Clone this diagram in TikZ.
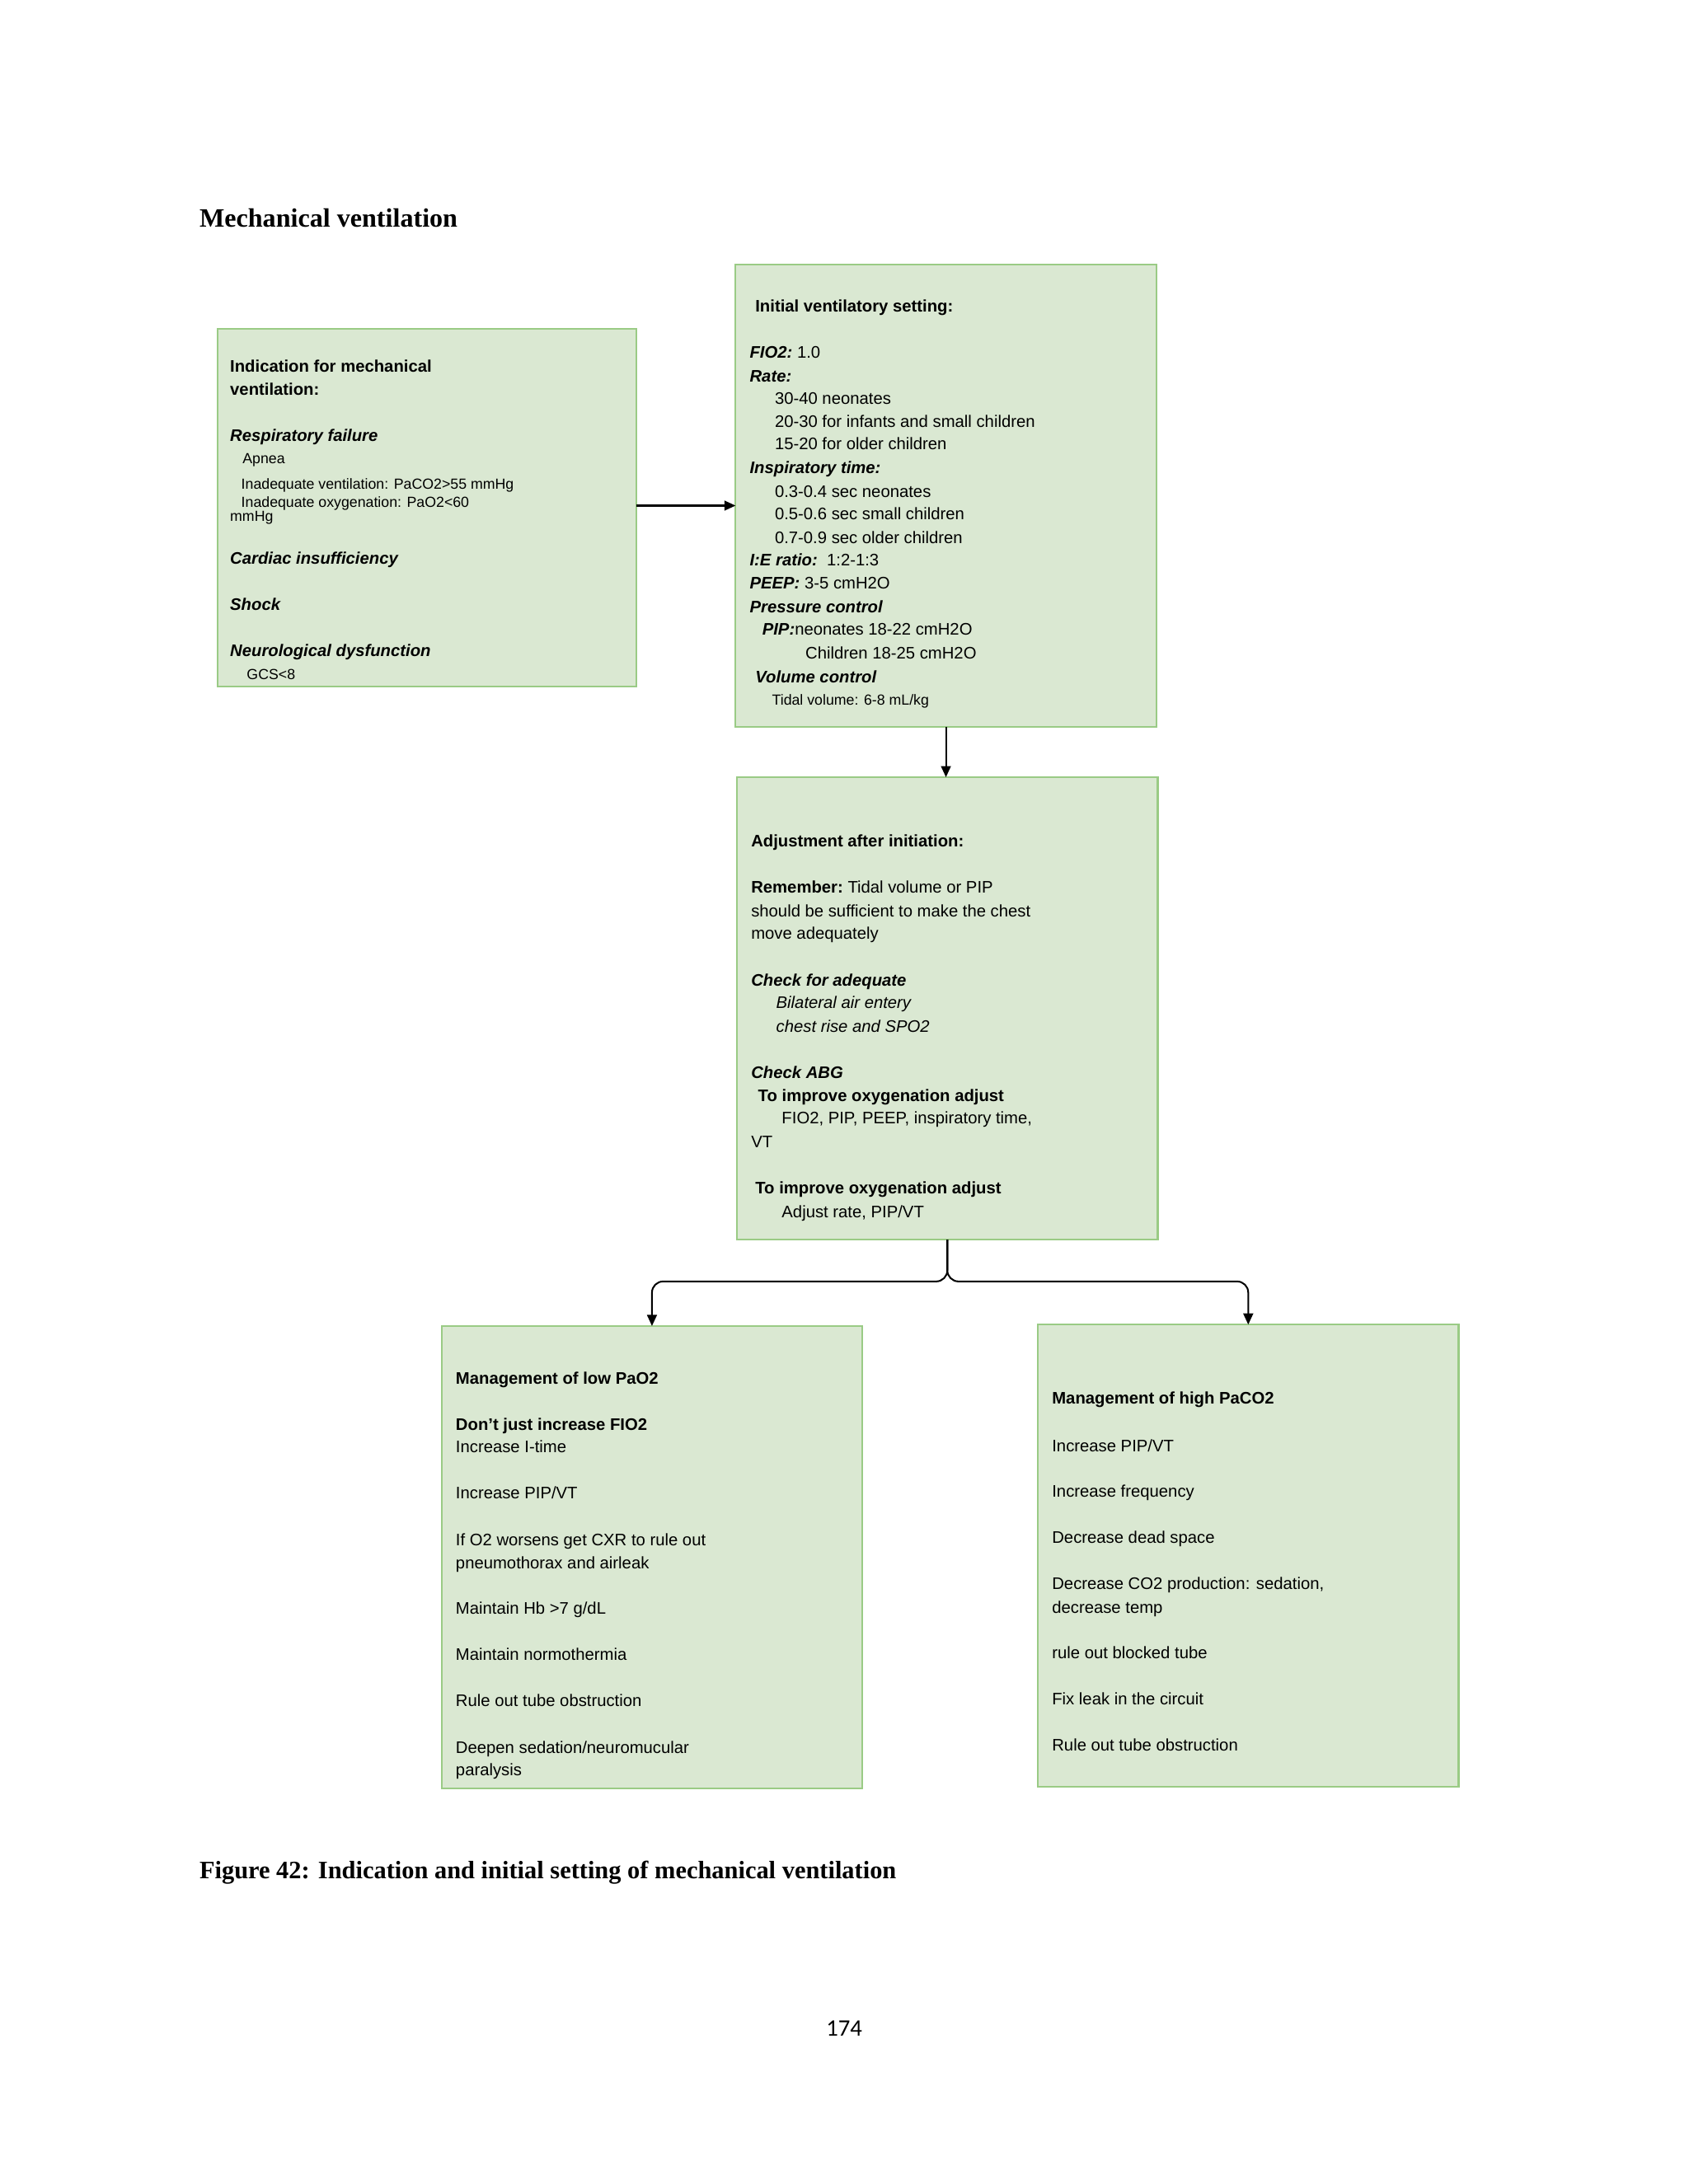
\documentclass[tikz,border=0pt]{standalone}
\usepackage{fontspec}
\setmainfont{Liberation Sans}
\newfontfamily\serifb{Liberation Serif}
\newfontfamily\cali{Carlito}
\usetikzlibrary{arrows.meta}
\begin{document}
\begin{tikzpicture}[x=1pt,y=-1pt,
 box/.style={draw=green!45!black!45!white,line width=1.2pt,fill=green!10!gray!8!white!88!green},
 t/.style={anchor=base west,inner sep=0pt,font=\fontsize{12}{14}\selectfont},
 s/.style={anchor=base west,inner sep=0pt,font=\fontsize{10.5}{12}\selectfont},
 arr/.style={line width=1.2pt,-{Triangle[length=8pt,width=7pt]}}]
\definecolor{bx}{HTML}{DAE8D2}
\definecolor{bd}{HTML}{9ACB85}
\tikzset{box/.style={draw=bd,line width=1.3pt,fill=bx}}
\useasboundingbox (0,0) rectangle (1212,1568);
\node[anchor=base west,inner sep=0pt,font=\serifb\bfseries\fontsize{19}{22}\selectfont] (title) at (143,163) {Mechanical ventilation};
\node[anchor=base west,inner sep=0pt,font=\serifb\bfseries\fontsize{18}{22}\selectfont] (cap) at (143,1349) {Figure 42: Indication and initial setting of mechanical ventilation};
\node[anchor=base,inner sep=0pt,font=\cali\fontsize{17}{20}\selectfont] (pg) at (606,1462) {174};
% boxes
\path[box] (156,236) rectangle (457,493); \coordinate (b1e) at (457,363);
\path[box] (528,190) rectangle (830,522); \coordinate (b2w) at (528,363); \coordinate (b2s) at (679,522);
\path[box] (529,558) rectangle (831,890); \coordinate (b3n) at (679,558); \coordinate (b3s) at (680,890);
\path[box] (317,952) rectangle (619,1284); \coordinate (b4n) at (468,952);
\path[box] (745,951) rectangle (1047,1283); \coordinate (b5n) at (896,951);
\draw[arr] (b1e) -- (b2w);
\draw[arr] (b2s) -- (b3n);
\draw[arr,rounded corners=8pt] (b3s) -- ++(0,30) -| (b4n);
\draw[arr,rounded corners=8pt] (b3s) -- ++(0,30) -| (b5n);
% box1
\node[t] at (165,267) {\bfseries Indication for mechanical};
\node[t] at (165,284) {\bfseries ventilation:};
\node[t] at (165,317) {\bfseries\itshape Respiratory failure};
\node[s] at (174,333) {Apnea};
\node[s] at (173,351) {Inadequate ventilation: PaCO2>55 mmHg};
\node[s] at (173,364) {Inadequate oxygenation: PaO2<60};
\node[s] at (165,374) {mmHg};
\node[t] at (165,405) {\bfseries\itshape Cardiac insufficiency};
\node[t] at (165,438) {\bfseries\itshape Shock};
\node[t] at (165,471) {\bfseries\itshape Neurological dysfunction};
\node[s] at (177,488) {GCS<8};
% box2
\node[t] at (542,224) {\bfseries Initial ventilatory setting:};
\node[t] at (538,257) {\bfseries\itshape FIO2:\mdseries\upshape\ 1.0};
\node[t] at (538,274) {\bfseries\itshape Rate:};
\node[t] at (556,290) {30-40 neonates};
\node[t] at (556,307) {20-30 for infants and small children};
\node[t] at (556,323) {15-20 for older children};
\node[t] at (538,340) {\bfseries\itshape Inspiratory time:};
\node[t] at (556,357) {0.3-0.4 sec neonates};
\node[t] at (556,373) {0.5-0.6 sec small children};
\node[t] at (556,390) {0.7-0.9 sec older children};
\node[t] at (538,406) {\bfseries\itshape I:E ratio:\mdseries\upshape\ \ 1:2-1:3};
\node[t] at (538,423) {\bfseries\itshape PEEP:\mdseries\upshape\ 3-5 cmH2O};
\node[t] at (538,440) {\bfseries\itshape Pressure control};
\node[t] at (547,456) {\bfseries\itshape PIP:\mdseries\upshape neonates 18-22 cmH2O};
\node[t] at (578,473) {Children 18-25 cmH2O};
\node[t] at (542,490) {\bfseries\itshape Volume control};
\node[s] at (554,506) {Tidal volume: 6-8 mL/kg};
% box3
\node[t] at (539,608) {\bfseries Adjustment after initiation:};
\node[t] at (539,641) {\bfseries Remember:\mdseries\ Tidal volume or PIP};
\node[t] at (539,658) {should be sufficient to make the chest};
\node[t] at (539,674) {move adequately};
\node[t] at (539,708) {\bfseries\itshape Check for adequate};
\node[t] at (557,724) {\itshape Bilateral air entery};
\node[t] at (557,741) {\itshape chest rise and SPO2};
\node[t] at (539,774) {\bfseries\itshape Check ABG};
\node[t] at (544,791) {\bfseries To improve oxygenation adjust};
\node[t] at (561,807) {FIO2, PIP, PEEP, inspiratory time,};
\node[t] at (539,824) {VT};
\node[t] at (542,857) {\bfseries To improve oxygenation adjust};
\node[t] at (561,874) {Adjust rate, PIP/VT};
% box4
\node[t] at (327,994) {\bfseries Management of low PaO2};
\node[t] at (327,1027) {\bfseries Don't just increase FIO2};
\node[t] at (327,1043) {Increase I-time};
\node[t] at (327,1076) {Increase PIP/VT};
\node[t] at (327,1110) {If O2 worsens get CXR to rule out};
\node[t] at (327,1126) {pneumothorax and airleak};
\node[t] at (327,1159) {Maintain Hb >7 g/dL};
\node[t] at (327,1192) {Maintain normothermia};
\node[t] at (327,1225) {Rule out tube obstruction};
\node[t] at (327,1259) {Deepen sedation/neuromucular};
\node[t] at (327,1275) {paralysis};
% box5
\node[t] at (755,1008) {\bfseries Management of high PaCO2};
\node[t] at (755,1042) {Increase PIP/VT};
\node[t] at (755,1075) {Increase frequency};
\node[t] at (755,1108) {Decrease dead space};
\node[t] at (755,1141) {Decrease CO2 production: sedation,};
\node[t] at (755,1158) {decrease temp};
\node[t] at (755,1191) {rule out blocked tube};
\node[t] at (755,1224) {Fix leak in the circuit};
\node[t] at (755,1257) {Rule out tube obstruction};
\end{tikzpicture}
\end{document}
